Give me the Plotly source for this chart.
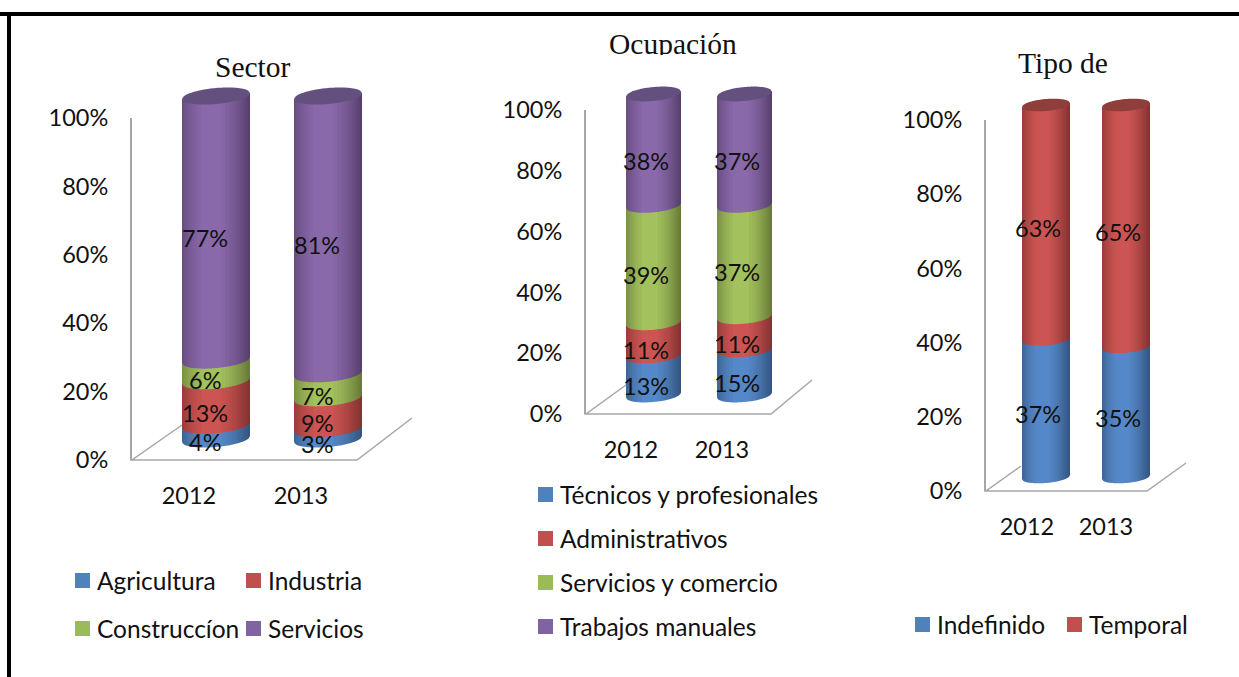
import math
import plotly.graph_objects as go

W, H = 1239, 677

years = ["2012", "2013"]

sector_names = ["Agricultura", "Industria", "Construccíon", "Servicios"]
sector_2012 = [4, 13, 6, 77]
sector_2013 = [3, 9, 7, 81]

ocup_names = ["Técnicos y profesionales", "Administrativos", "Servicios y comercio", "Trabajos manuales"]
ocup_2012 = [13, 11, 39, 38]
ocup_2013 = [15, 11, 37, 37]

tipo_names = ["Indefinido", "Temporal"]
tipo_2012 = [37, 63]
tipo_2013 = [35, 65]

tick_values = [0, 20, 40, 60, 80, 100]
tick_labels = ["0%", "20%", "40%", "60%", "80%", "100%"]

blue, red, green, purple = "#5588c8", "#cc5452", "#a3c15c", "#8a69ab"
legend_colors = ["#4f81bd", "#c0504d", "#9bbb59", "#8064a2"]

sans = "Lato"
serif = "Liberation Serif"
FS = 23.5
FS_LEG = 24.5
TXT = "#111111"

panels = [
    dict(title="Sector", tx=253, ty=67, names=sector_names, v=[sector_2012, sector_2013],
         colors=[blue, red, green, purple], cap="#64507f",
         c=(216, 328), bw=68, ax=132, y0=460, y100=118, by0=439, by100=96, b=8, tilt=3,
         xr=412, lab=(189, 301), ls=(-11, -10),
         floor=[(182, 425), (132, 460), (357, 460), (412, 418)],
         leg=[(75, 581), (246, 581), (75, 629), (246, 629)]),
    dict(title="Ocupación", tx=673, ty=44, names=ocup_names, v=[ocup_2012, ocup_2013],
         colors=[blue, red, green, purple], cap="#64507f", clip=22,
         c=(653.5, 744.5), bw=55, ax=586, y0=414, y100=110, by0=395, by100=94, b=7, tilt=2.5,
         xr=812, lab=(631, 722), ls=(-8, -11),
         floor=[(626, 385), (586, 414), (771, 414), (812, 380)],
         leg=[(538, 495), (538, 539), (538, 583), (538, 627)]),
    dict(title="Tipo de", tx=1063, ty=63, names=tipo_names, v=[tipo_2012, tipo_2013],
         colors=[blue, red], cap="#8f3e3c",
         c=(1046, 1126), bw=48, ax=986, y0=491, y100=120, by0=477, by100=105, b=6, tilt=2,
         xr=1186, lab=(1027, 1106), ls=(-8, -6),
         floor=[(1021, 466), (986, 491), (1147, 491), (1186, 463)],
         leg=[(915, 625), (1067, 625)]),
]

fig = go.Figure()
shapes, annotations = [], []
layout_axes = {}


def fx(x):
    return x / W


def fy(y):
    return 1 - y / H


for i, p in enumerate(panels):
    n = 2 * i
    xname = "x" if i == 0 else f"x{i+1}"
    yname = "y" if i == 0 else f"y{n+1}"
    y2name = f"y{n+2}"
    unit = p["c"][1] - p["c"][0]
    to_x = lambda px, p=p, unit=unit: (px - p["c"][0]) / unit
    xr = [to_x(p["ax"]), to_x(p["xr"])]
    layout_axes["xaxis" if i == 0 else f"xaxis{i+1}"] = dict(
        domain=[fx(p["ax"]), fx(p["xr"])], range=xr, anchor=yname, automargin=False,
        tickmode="array", tickvals=[to_x(v) for v in p["lab"]], ticktext=years,
        ticks="outside", ticklen=15, tickcolor="rgba(0,0,0,0)", showgrid=False, zeroline=False,
        showline=False, tickfont=dict(family=sans, size=FS, color=TXT))
    layout_axes["yaxis" if i == 0 else f"yaxis{n+1}"] = dict(
        domain=[fy(p["y0"]), fy(p["y100"])], range=[0, 100], anchor=xname, automargin=False,
        tickmode="array", tickvals=tick_values, ticktext=tick_labels,
        ticks="outside", ticklen=17, tickcolor="rgba(0,0,0,0)", showgrid=False, zeroline=False,
        showline=True, linecolor="#a6a6a6", linewidth=2, tickfont=dict(family=sans, size=FS, color=TXT))
    scale = (p["by0"] - p["by100"]) / 100
    # bar axis: extended by a few units so the round ends are not clipped
    pad = 12
    layout_axes[f"yaxis{n+2}"] = dict(
        domain=[fy(p["by0"] + pad * scale), fy(p["by100"] - pad * scale)],
        range=[-pad, 100 + pad], anchor=xname, visible=False, automargin=False)

    # an empty trace registers the tick axis pair as a subplot
    fig.add_trace(go.Scatter(x=[None], y=[None], mode="markers", showlegend=False,
                             hoverinfo="skip", xaxis=xname, yaxis=yname))

    # floor of the 3D box
    d = "M" + " L".join(f"{fx(a):.5f},{fy(b):.5f}" for a, b in p["floor"])
    shapes.append(dict(type="path", path=d, xref="paper", yref="paper",
                       line=dict(color="#a6a6a6", width=1.5), layer="below"))

    for j, name in enumerate(p["names"]):
        fig.add_trace(go.Bar(
            x=[0, 1], y=[p["v"][0][j], p["v"][1][j]], name=name, showlegend=False,
            width=0.8 * p["bw"] / unit, marker=dict(color=p["colors"][j], line_width=0),
            xaxis=xname, yaxis=y2name))

    a = p["bw"] / 2 / unit
    bv = p["b"] / scale
    tv = p["tilt"] / scale

    def lower(c, u):
        return c - bv * math.sqrt(max(0, 1 - u * u)) + tv * u

    def upper(c, u):
        return c + bv * math.sqrt(max(0, 1 - u * u)) + tv * u

    def add(points, color):
        d = "M" + " L".join(f"{x:.4f},{y:.3f}" for x, y in points) + " Z"
        shapes.append(dict(type="path", path=d, xref=xname, yref=y2name, fillcolor=color,
                           line=dict(width=0), layer="above"))

    M = 40
    us = [-1 + 2 * k / M for k in range(M + 1)]
    for cx, vals in enumerate(p["v"]):
        cum = 0
        for j, val in enumerate(vals):
            top = 100 if j == len(vals) - 1 else cum + val
            pts = [(cx + a * u, lower(cum, u)) for u in us]
            pts += [(cx + a, top + tv), (cx - a, top - tv)]
            add(pts, p["colors"][j])
            annotations.append(dict(
                x=cx, y=(cum + top) / 2, xref=xname, yref=y2name, text=f"{val}%", showarrow=False,
                xshift=p["ls"][0], yshift=p["ls"][1], font=dict(family=sans, size=FS, color=TXT)))
            cum = top
        # cylinder shading: nested translucent layers
        for side, u0, N in ((-1, -0.15, 9), (1, -0.15, 14)):
            for k in range(1, N + 1):
                uk = u0 + (side - u0) * math.sqrt(k / N)
                lo, hi = (uk, 1.0) if side == 1 else (-1.0, uk)
                su = [lo + (hi - lo) * q / 14 for q in range(15)]
                pts = [(cx + a * u, lower(0, u)) for u in su]
                pts += [(cx + a * u, 100 + tv * u) for u in reversed(su)]
                add(pts, "rgba(0,0,0,0.032)")
        # top cap
        pts = [(cx + a * u, lower(100, u)) for u in us]
        pts += [(cx + a * u, upper(100, u)) for u in reversed(us)]
        add(pts, p["cap"])

    # title
    ann = dict(x=fx(p["tx"]), y=fy(p["ty"]), xref="paper", yref="paper", text=p["title"],
               showarrow=False, font=dict(family=serif, size=29.5, color=TXT),
               xanchor="center", yanchor="middle")
    if "clip" in p:
        ann["height"] = p["clip"]
    annotations.append(ann)

    # legend
    for (lx, ly), name, col in zip(p["leg"], p["names"], legend_colors):
        shapes.append(dict(type="rect", xref="paper", yref="paper",
                           x0=fx(lx), x1=fx(lx + 15), y0=fy(ly - 8), y1=fy(ly + 7),
                           fillcolor=col, line=dict(width=0)))
        annotations.append(dict(x=fx(lx + 20), y=fy(ly - 1), xref="paper", yref="paper", text=name,
                                showarrow=False, xanchor="left", yanchor="middle",
                                font=dict(family=sans, size=FS_LEG, color=TXT)))

# outer black frame (top and left only)
shapes.append(dict(type="rect", xref="paper", yref="paper", x0=0, x1=1, y0=fy(16), y1=fy(12),
                   fillcolor="#000000", line=dict(width=0)))
shapes.append(dict(type="rect", xref="paper", yref="paper", x0=fx(7), x1=fx(11), y0=0, y1=fy(12),
                   fillcolor="#000000", line=dict(width=0)))

fig.update_layout(width=W, height=H, margin=dict(l=0, r=0, t=0, b=0), barmode="stack",
                  paper_bgcolor="white", plot_bgcolor="rgba(0,0,0,0)", showlegend=False,
                  shapes=shapes, annotations=annotations, **layout_axes)
fig.write_html("out.html", config=dict(displayModeBar=False),
               post_script="document.body.style.margin='0';")
